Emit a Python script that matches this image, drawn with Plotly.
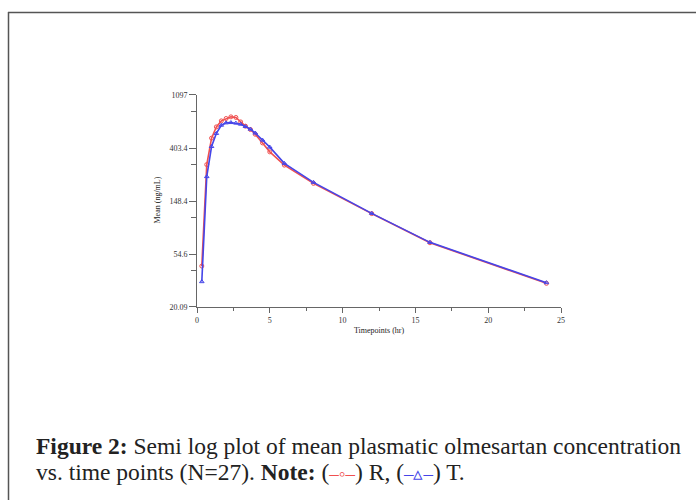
import plotly.graph_objects as go

# Time points (hr)
time_h = [0.33, 0.67, 1.0, 1.33, 1.67, 2.0, 2.33, 2.67, 3.0, 3.33, 3.67, 4.0, 4.5, 5.0, 6.0, 8.0, 12.0, 16.0, 24.0]
# Mean concentrations (ng/mL)
conc_R = [43.5, 295, 486, 601, 673, 704, 726, 718, 660, 609, 572, 523, 444, 375, 292, 207, 117, 67.5, 31.4]
conc_T = [32.4, 235, 415, 531, 620, 648, 652, 645, 632, 605, 575, 535, 468, 410, 302, 211, 117.5, 68, 31.8]

y_tickvals = [20.09, 54.6, 148.4, 403.4, 1097]
y_ticktext = ["20.09", "54.6", "148.4", "403.4", "1097"]
y_minor = [40.17, 109.2, 296.8, 806.8]
x_tickvals = [0, 5, 10, 15, 20, 25]
x_minor = [2.5, 7.5, 12.5, 17.5, 22.5]

RED = "#f05050"
BLUE = "#4545e8"
AX = "#666666"
SERIF = "Liberation Serif"

fig = go.Figure()
fig.add_trace(go.Scatter(x=time_h, y=conc_R, mode="lines+markers", name="R",
                         line=dict(color=RED, width=1.6),
                         marker=dict(symbol="circle-open", size=4, color=RED, line=dict(width=1))))
fig.add_trace(go.Scatter(x=time_h, y=conc_T, mode="lines+markers", name="T",
                         line=dict(color=BLUE, width=1.6),
                         marker=dict(symbol="triangle-up-open", size=4, color=BLUE, line=dict(width=1))))

L, R_, T, B = 197, 135, 95, 193
W, H = 696, 500
pw, ph = W - L - R_, H - T - B

def px(x):
    return (x - L) / pw

def py(y):
    return (H - B - y) / ph

fig.update_layout(
    width=W, height=H,
    margin=dict(l=L, r=R_, t=T, b=B, pad=0),
    paper_bgcolor="white", plot_bgcolor="white",
    showlegend=False,
    font=dict(family=SERIF, size=8, color="#333333"),
)
fig.update_xaxes(range=[0, 25], tickmode="array", tickvals=x_tickvals,
                 ticks="outside", ticklen=5, tickcolor=AX, tickwidth=1,
                 showline=True, linecolor=AX, linewidth=1, showgrid=False, zeroline=False,
                 tickfont=dict(family=SERIF, size=8, color="#333333"),
                 minor=dict(tickmode="array", tickvals=x_minor, ticks="outside", ticklen=3,
                            tickcolor=AX, showgrid=False))
fig.update_yaxes(type="log", range=[1.30288, 3.04006], tickmode="array",
                 tickvals=y_tickvals, ticktext=y_ticktext,
                 ticks="outside", ticklen=7, tickcolor=AX, tickwidth=1,
                 showline=True, linecolor=AX, linewidth=1, showgrid=False, zeroline=False,
                 tickfont=dict(family=SERIF, size=8, color="#333333"),
                 minor=dict(tickmode="array", tickvals=y_minor, ticks="outside", ticklen=5,
                            tickcolor=AX, showgrid=False))

# axis titles
fig.add_annotation(xref="paper", yref="paper", x=px(150), y=py(200), text="Mean (ng/mL)",
                   textangle=-90, showarrow=False, font=dict(family=SERIF, size=8, color="#222222"))
fig.add_annotation(xref="paper", yref="paper", x=px(379), y=py(337), text="Timepoints (hr)",
                   showarrow=False, font=dict(family=SERIF, size=8, color="#222222"))

# caption
cap_font = dict(family=SERIF, size=23.5, color="#222222")
fig.add_annotation(xref="paper", yref="paper", x=px(34), y=py(446), xanchor="left", yanchor="middle",
                   text="<b>Figure 2:</b> Semi log plot of mean plasmatic olmesartan concentration",
                   showarrow=False, font=cap_font)
fig.add_annotation(xref="paper", yref="paper", x=px(34), y=py(472), xanchor="left", yanchor="middle",
                   text=("vs. time points (N=27). <b>Note:</b> (<span style='color:%s;font-size:19px'>–◦–</span>) R, "
                         "(<span style='color:%s;font-size:19px'>–▵–</span>) T." % (RED, BLUE)),
                   showarrow=False, font=cap_font)

# frame border
fig.add_shape(type="line", xref="paper", yref="paper", x0=px(8), x1=px(700), y0=py(12.5), y1=py(12.5),
              line=dict(color="#555555", width=1.5))
fig.add_shape(type="line", xref="paper", yref="paper", x0=px(8.5), x1=px(8.5), y0=py(12), y1=py(505),
              line=dict(color="#555555", width=1.5))

fig.write_html("out.html")
